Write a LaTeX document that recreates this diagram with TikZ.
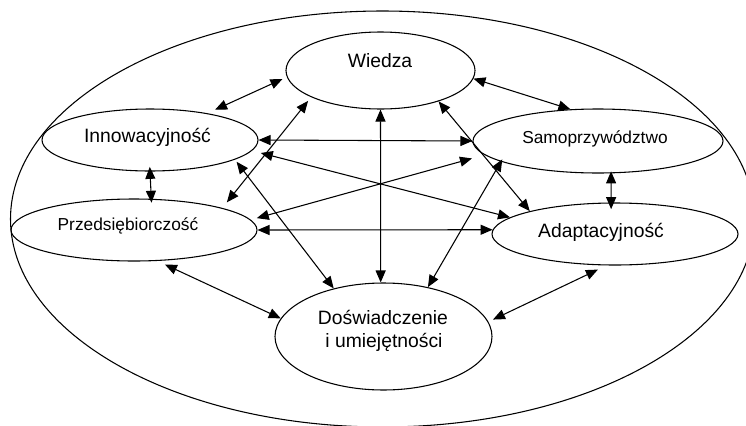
\documentclass[tikz,border=0pt]{standalone}
\usepackage{fontspec}
\setmainfont{Liberation Sans}
\usetikzlibrary{arrows.meta,shapes.geometric}
\begin{document}
\begin{tikzpicture}[x=0.75pt,y=-0.75pt,
  ell/.style={draw, ellipse, inner sep=0pt, line width=0.8pt},
  lbl/.style={inner sep=0pt, anchor=base, font=\fontsize{14.5}{17}\selectfont},
  lbls/.style={inner sep=0pt, anchor=base, font=\fontsize{13}{16}\selectfont},
  link/.style={line width=0.8pt, {Triangle[length=9pt,width=7.5pt]}-{Triangle[length=9pt,width=7.5pt]}}]
\useasboundingbox (0,0) rectangle (746,425);
\clip (0,0) rectangle (746,425);
% outer ellipse
\node[ell, minimum width=558pt, minimum height=312pt] (outer) at (382.5,219) {};
% inner ellipses
\node[ell, minimum width=141.75pt, minimum height=57.75pt] (W) at (380.5,70.5) {};
\node[ell, minimum width=162pt, minimum height=46.5pt] (I) at (150,140) {};
\node[ell, minimum width=187.5pt, minimum height=48pt] (S) at (598,141) {};
\node[ell, minimum width=184.5pt, minimum height=46.5pt] (P) at (134,230) {};
\node[ell, minimum width=184.5pt, minimum height=46.5pt] (A) at (615,234) {};
\node[ell, minimum width=162.75pt, minimum height=80.25pt] (D) at (383.5,336.5) {};
% labels
\node[lbl] (tW) at (380,67) {Wiedza};
\node[lbl] (tI) at (147.5,142) {Innowacyjność};
\node[lbls] (tS) at (595,143) {Samoprzywództwo};
\node[lbls] (tP) at (128,230) {Przedsiębiorczość};
\node[lbl] (tA) at (601,237) {Adaptacyjność};
\node[lbl] (tD1) at (383,324) {Doświadczenie};
\node[lbl] (tD2) at (384,347) {i umiejętności};
% connectors
\draw[link, shorten <=3.6pt, shorten >=6.3pt] (W.184) -- (I.25.7);
\draw[link] (W.355) -- (S.131);
\draw[link, shorten <=-3.5pt, shorten >=-3pt] (I.270) -- (P.61);
\draw[link, shorten <=-1.5pt, shorten >=-5pt] (S.292) -- (A.97);
\draw[link] (W.270) -- (D.93);
\draw[link] (I.0) -- (S.180);
\draw[link] (P.0) -- (A.178);
\draw[link, shorten <=3.6pt, shorten >=5.4pt] (W.201) -- (P.14.6);
\draw[link] (W.332) -- (A.165.6);
\draw[link, shorten <=2pt] (I.347) -- (D.136);
\draw[link, shorten <=-2pt] (S.192) -- (D.48);
\draw[link, shorten <=6.75pt] (I.354) -- (A.171.5);
\draw[link, shorten <=4.6pt, shorten >=9.8pt] (P.5) -- (S.187.5);
\draw[link, shorten <=6.3pt] (P.307.6) -- (D.170);
\draw[link, shorten <=7.2pt, shorten >=3.8pt] (A.255) -- (D.8.4);
\end{tikzpicture}
\end{document}
